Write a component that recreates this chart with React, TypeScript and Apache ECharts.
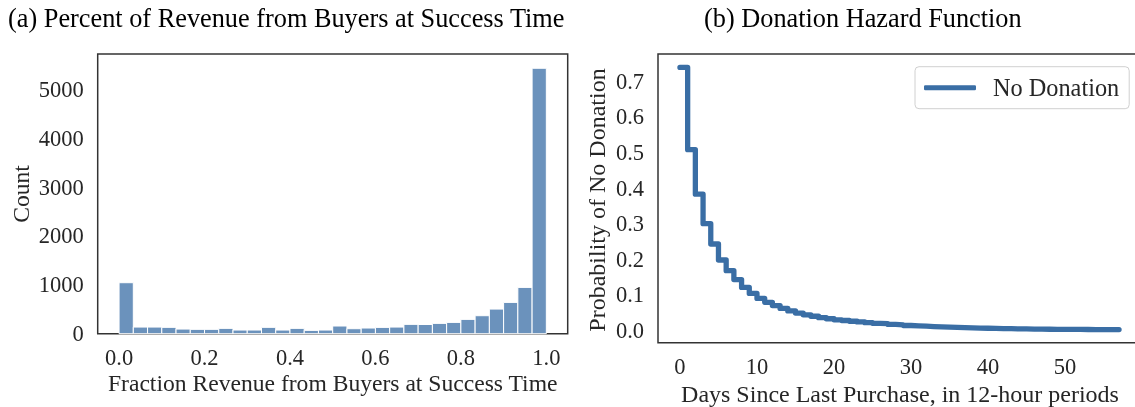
import React, { useEffect, useRef } from "react";
import * as echarts from "echarts";

// Histogram (a): 30 equal bins on [0, 1]
const BIN_COUNT = 30;
const binCounts = [
  1043, 136, 136, 130, 95, 89, 89, 109, 75, 75,
  130, 75, 109, 68, 75, 157, 102, 116, 129, 136,
  191, 188, 211, 231, 293, 368, 504, 640, 947, 5430,
];
const histXTicks = [0, 0.2, 0.4, 0.6, 0.8, 1.0];
const histYTicks = [0, 1000, 2000, 3000, 4000, 5000];

// Hazard (b): probability of no donation per 12-hour period (0..57)
const noDonation = [
  0.739, 0.508, 0.383, 0.3, 0.243, 0.198, 0.168, 0.143, 0.121, 0.104,
  0.09, 0.079, 0.07, 0.062, 0.055, 0.049, 0.044, 0.04, 0.036, 0.033,
  0.03, 0.028, 0.026, 0.024, 0.022, 0.02, 0.019, 0.017, 0.016, 0.014,
  0.013, 0.012, 0.011, 0.01, 0.0094, 0.0087, 0.008, 0.0074, 0.0068, 0.0063,
  0.0058, 0.0054, 0.005, 0.0046, 0.0043, 0.004, 0.0037, 0.0035, 0.0033, 0.0031,
  0.003, 0.0029, 0.0028, 0.0027, 0.0026, 0.0025, 0.0025, 0.0024,
];
const hazardXTicks = [0, 10, 20, 30, 40, 50];
const hazardYTicks = [0, 0.1, 0.2, 0.3, 0.4, 0.5, 0.6, 0.7];

const FONT = "'Liberation Serif', 'Times New Roman', serif";
const TEXT = "#262626";
const FRAME = "#333333";
const LINE = "#3a6ea5";
const BAR = "#6b92bc";

export default function App() {
  const ref = useRef<HTMLDivElement>(null);

  useEffect(() => {
    if (!ref.current) return;
    document.body.style.overflow = "hidden";
    const chart = echarts.init(ref.current, undefined, { renderer: "svg" });

    const histData = binCounts.map((c, i) => [i / BIN_COUNT, (i + 1) / BIN_COUNT, c]);
    const hazardData = noDonation.map((v, i) => [i, v]);

    const tickLabel = {
      fontFamily: FONT,
      fontSize: 22.5,
      color: TEXT,
    };

    chart.setOption({
      animation: false,
      textStyle: { fontFamily: FONT },
      grid: [
        {
          left: 97.7,
          top: 54,
          width: 470,
          height: 279.7,
          show: true,
          borderColor: FRAME,
          borderWidth: 1.5,
          backgroundColor: "#fff",
        },
        {
          left: 658,
          top: 54,
          width: 483,
          height: 288.7,
          show: true,
          borderColor: FRAME,
          borderWidth: 1.5,
          backgroundColor: "#fff",
        },
      ],
      xAxis: [
        {
          type: "value",
          gridIndex: 0,
          min: -0.05,
          max: 1.05,
          splitLine: { show: false },
          axisLine: { show: false },
          axisTick: { show: false },
          axisLabel: {
            ...tickLabel,
            margin: 12,
            customValues: histXTicks,
            formatter: (v: number) => v.toFixed(1),
          },
        },
        {
          type: "value",
          gridIndex: 1,
          min: -2.85,
          max: 59.85,
          splitLine: { show: false },
          axisLine: { show: false },
          axisTick: { show: false },
          axisLabel: {
            ...tickLabel,
            margin: 12,
            customValues: hazardXTicks,
            formatter: (v: number) => String(v),
          },
        },
      ],
      yAxis: [
        {
          type: "value",
          gridIndex: 0,
          min: 0,
          max: 5722,
          splitLine: { show: false },
          axisLine: { show: false },
          axisTick: { show: false },
          axisLabel: {
            ...tickLabel,
            margin: 14,
            customValues: histYTicks,
            formatter: (v: number) => String(v),
          },
        },
        {
          type: "value",
          gridIndex: 1,
          min: -0.0343,
          max: 0.7767,
          splitLine: { show: false },
          axisLine: { show: false },
          axisTick: { show: false },
          axisLabel: {
            ...tickLabel,
            margin: 14,
            customValues: hazardYTicks,
            formatter: (v: number) => v.toFixed(1),
          },
        },
      ],
      legend: {
        data: [{ name: "No Donation", icon: "roundRect" }],
        left: 915,
        top: 66.7,
        orient: "vertical",
        padding: [9, 10, 9, 9],
        itemWidth: 52,
        itemHeight: 5,
        borderColor: "#d0d0d0",
        borderWidth: 1,
        borderRadius: 4,
        backgroundColor: "#fff",
        itemStyle: { color: LINE, borderWidth: 0 },
        textStyle: {
          fontFamily: FONT,
          fontSize: 24.3,
          color: TEXT,
          padding: [0, 0, 0, 12],
        },
      },
      graphic: [
        {
          type: "text",
          left: 8,
          top: 5,
          style: {
            text: "(a) Percent of Revenue from Buyers at Success Time",
            font: `26.3px ${FONT}`,
            fill: "#000",
          },
        },
        {
          type: "text",
          left: 704,
          top: 5,
          style: {
            text: "(b) Donation Hazard Function",
            font: `26.3px ${FONT}`,
            fill: "#000",
          },
        },
        {
          type: "text",
          x: 332.7,
          y: 383.3,
          style: {
            text: "Fraction Revenue from Buyers at Success Time",
            font: `23.6px ${FONT}`,
            fill: TEXT,
            align: "center",
            verticalAlign: "middle",
          },
        },
        {
          type: "text",
          x: 900,
          y: 394,
          style: {
            text: "Days Since Last Purchase, in 12-hour periods",
            font: `24px ${FONT}`,
            fill: TEXT,
            align: "center",
            verticalAlign: "middle",
          },
        },
        {
          type: "text",
          x: 21.3,
          y: 194,
          rotation: Math.PI / 2,
          style: {
            text: "Count",
            font: `23.6px ${FONT}`,
            fill: TEXT,
            align: "center",
            verticalAlign: "middle",
          },
        },
        {
          type: "text",
          x: 596.5,
          y: 200,
          rotation: Math.PI / 2,
          style: {
            text: "Probability of No Donation",
            font: `24px ${FONT}`,
            fill: TEXT,
            align: "center",
            verticalAlign: "middle",
          },
        },
      ],
      series: [
        {
          type: "custom",
          xAxisIndex: 0,
          yAxisIndex: 0,
          encode: { x: [0, 1], y: 2 },
          data: histData,
          renderItem: (params: any, api: any) => {
            const p0 = api.coord([api.value(0), api.value(2)]);
            const p1 = api.coord([api.value(1), 0]);
            return {
              type: "rect",
              shape: {
                x: p0[0],
                y: p0[1],
                width: p1[0] - p0[0],
                height: p1[1] - p0[1],
              },
              style: { fill: BAR, stroke: "#ffffff", lineWidth: 1 },
            };
          },
        },
        {
          type: "line",
          name: "No Donation",
          xAxisIndex: 1,
          yAxisIndex: 1,
          data: hazardData,
          step: "end",
          symbol: "none",
          showSymbol: false,
          lineStyle: { color: LINE, width: 5.3, cap: "round", join: "round" },
          itemStyle: { color: LINE },
          z: 3,
        },
      ],
    });

    return () => chart.dispose();
  }, []);

  return (
    <div
      ref={ref}
      style={{ position: "fixed", left: 0, top: 0, width: 1150, height: 407 }}
    />
  );
}
